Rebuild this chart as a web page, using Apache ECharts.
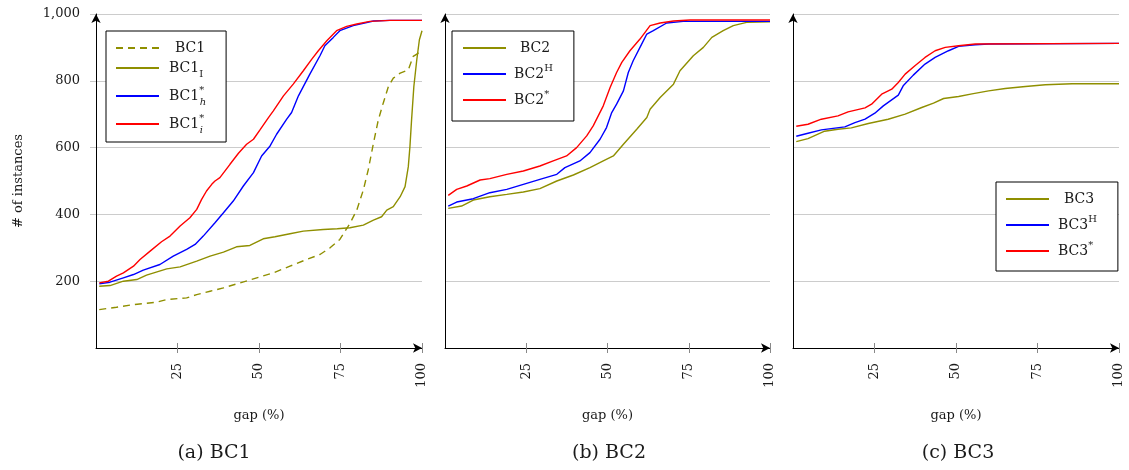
<!DOCTYPE html>
<html>
<head>
<meta charset="utf-8">
<script src="https://cdn.jsdelivr.net/npm/echarts@6/dist/echarts.min.js"></script>
<style>
  html, body { margin: 0; padding: 0; background: #fff; }
  #chart { width: 1129px; height: 470px; }
</style>
</head>
<body>
<div id="chart"></div>
<script>
// Cumulative number of instances solved within a given optimality gap (%)

// BC1 family
const bc1Gap = [1, 6.3, 11.5, 18.6, 21.7, 27.8, 30.9, 35, 39.1, 44.2, 49.3, 54.4, 59.5, 64.6, 68.7, 71.8, 74.8, 77.9, 80, 82, 83.5, 85.1, 86.6, 88.1, 89.7, 91.2, 93.3, 95.8, 97.3, 98.9, 100];
const bc1Count = [115, 122, 130, 137, 145, 150, 160, 170, 180, 195, 210, 225, 245, 265, 280, 300, 325, 373, 413, 473, 533, 613, 683, 733, 783, 808, 823, 833, 873, 883, 883];

const bc1IGap = [1, 4.3, 8.4, 12.5, 15.5, 21.7, 25.8, 30.9, 35, 39.1, 43.1, 47.2, 51.3, 54.9, 59.5, 63.6, 69.7, 74, 77.9, 82, 85.1, 87.6, 89.2, 91.2, 93.3, 94.8, 95.8, 96.3, 96.8, 97.5, 98.4, 99.2, 100];
const bc1ICount = [185, 187, 200, 205, 218, 237, 243, 260, 275, 287, 303, 307, 327, 333, 342, 350, 355, 357, 360, 368, 383, 393, 413, 423, 453, 483, 543, 603, 683, 783, 863, 923, 950];

const bc1HGap = [1, 4.3, 8.4, 11.5, 14.5, 19.6, 23.7, 27.8, 30.4, 32.9, 36.5, 39.1, 42.1, 45.2, 48.3, 50.8, 53.4, 55.4, 58.5, 60, 62.1, 65.6, 68.7, 70.2, 72.8, 74.8, 78.9, 85.1, 90, 100];
const bc1HCount = [192, 197, 210, 220, 233, 250, 275, 295, 310, 335, 375, 405, 440, 485, 525, 575, 605, 640, 685, 705, 755, 820, 875, 905, 930, 950, 965, 979, 981, 981];

const bc1IStarGap = [1, 3.8, 6.3, 8.4, 11.5, 13.5, 16.6, 20.1, 22.7, 25.8, 28.8, 30.9, 32.4, 33.9, 35.5, 36.5, 38, 41.1, 43.7, 46.2, 48.3, 50.3, 52.9, 54.4, 57.5, 60.5, 63.6, 66.2, 68.2, 70.8, 73.8, 76.9, 80, 84, 90.2, 100];
const bc1IStarCount = [195, 200, 215, 225, 245, 265, 290, 318, 335, 365, 390, 415, 445, 470, 490, 500, 510, 550, 583, 610, 625, 653, 690, 710, 755, 790, 830, 865, 890, 920, 950, 963, 970, 978, 981, 981];

// BC2 family
const bc2Gap = [1, 5.1, 8.7, 13.8, 19, 24.1, 29.2, 34.4, 39.5, 44.6, 48.7, 51.8, 54.9, 59, 62.1, 63.1, 66.2, 70.3, 72.3, 76.4, 79.5, 82.1, 85.6, 88.7, 92.8, 100];
const bc2Count = [418, 425, 443, 453, 460, 467, 477, 500, 518, 540, 560, 575, 610, 655, 690, 715, 750, 790, 830, 875, 900, 930, 950, 965, 975, 977];

const bc2HGap = [1, 3.6, 8.7, 13.8, 19, 24.1, 29.2, 34.4, 36.9, 41.5, 44.6, 47.7, 49.7, 51.3, 52.8, 54.9, 56.4, 57.9, 60, 62.1, 64.1, 68.2, 73.3, 100];
const bc2HCount = [425, 437, 447, 465, 475, 490, 505, 520, 540, 560, 585, 625, 660, 705, 730, 770, 825, 860, 900, 940, 950, 973, 978, 978];

const bc2StarGap = [1, 3.6, 6.7, 10.8, 13.8, 19, 24.1, 29.2, 33.3, 37.4, 40.5, 43.6, 45.6, 48.7, 50.8, 52.8, 54.4, 56.9, 60, 63.1, 66.2, 70.3, 75.4, 100];
const bc2StarCount = [457, 475, 485, 503, 507, 520, 530, 545, 560, 575, 600, 635, 665, 725, 780, 825, 855, 890, 925, 965, 973, 979, 982, 982];

// BC3 family
const bc3Gap = [1, 4.6, 9.7, 13.8, 17.9, 23.1, 29.2, 34.4, 39.5, 43.1, 46.2, 50.8, 54.9, 60, 65.1, 71.3, 77.4, 85.6, 100];
const bc3Count = [618, 627, 649, 655, 659, 672, 685, 700, 720, 733, 747, 753, 761, 770, 777, 783, 788, 791, 791];

const bc3HGap = [1, 4.6, 8.7, 15.9, 19, 22.1, 25.1, 27.7, 32.3, 33.8, 36.9, 40.5, 43.6, 47.7, 50.8, 55.9, 60, 100];
const bc3HCount = [634, 643, 653, 662, 675, 685, 703, 725, 757, 785, 817, 850, 870, 890, 903, 908, 910, 912];

const bc3StarGap = [1, 4.6, 8.7, 13.8, 16.9, 22.1, 24.1, 27.2, 30.3, 32.3, 34.4, 37.4, 40.5, 43.6, 46.7, 50.8, 55.9, 100];
const bc3StarCount = [664, 670, 685, 695, 707, 719, 730, 760, 775, 795, 820, 845, 870, 890, 900, 905, 910, 912];

// Axis ticks and captions
const xTicks = [25, 50, 75, 100];
const yTicks = [200, 400, 600, 800, 1000];
const captions = ['(a) BC1', '(b) BC2', '(c) BC3'];
const xName = 'gap (%)';
const yName = '# of instances';

const OLIVE = '#8f8f00';
const BLUE = '#0000ff';
const RED = '#ff0000';
const SERIF = 'DejaVu Serif';
const INK = '#1a1a1a';

const panels = [
  { left: 96, width: 326, captionX: 214 },
  { left: 445, width: 325, captionX: 609 },
  { left: 793, width: 326, captionX: 958 }
];

const grids = panels.map(p => ({ left: p.left, width: p.width, top: 14, height: 334 }));

const xAxes = [];
const yAxes = [];
panels.forEach((p, i) => {
  // main x axis: line with arrow, outward ticks, rotated labels
  xAxes.push({
    type: 'value', gridIndex: i, min: 0, max: 100, interval: 25, position: 'bottom',
    name: xName, nameLocation: 'middle', nameGap: 61,
    nameTextStyle: { fontFamily: SERIF, fontSize: 13, color: INK },
    axisLine: { show: true, symbol: ['none', 'arrow'], symbolSize: [7, 9], lineStyle: { color: '#000', width: 1 } },
    axisTick: { show: true, customValues: xTicks, length: 5, lineStyle: { color: '#888', width: 1 } },
    axisLabel: {
      show: true, customValues: xTicks, rotate: 90, margin: 15,
      fontFamily: SERIF, fontSize: 13, color: INK
    },
    splitLine: { show: false }
  });
  // companion axis drawing the inward half of each tick
  xAxes.push({
    type: 'value', gridIndex: i, min: 0, max: 100, interval: 25, position: 'bottom',
    axisLine: { show: false },
    axisTick: { show: true, inside: true, customValues: xTicks, length: 5, lineStyle: { color: '#888', width: 1 } },
    axisLabel: { show: false },
    splitLine: { show: false }
  });
  yAxes.push({
    type: 'value', gridIndex: i, min: 0, max: 1000, interval: 200,
    name: i === 0 ? yName : '', nameLocation: 'middle', nameGap: 71,
    nameTextStyle: { fontFamily: SERIF, fontSize: 13, color: INK },
    axisLine: { show: true, symbol: ['none', 'arrow'], symbolSize: [7, 9], lineStyle: { color: '#000', width: 1 } },
    axisTick: { show: i === 0, customValues: yTicks, length: 6, lineStyle: { color: '#c8c8c8', width: 1 } },
    axisLabel: {
      show: i === 0, customValues: yTicks, margin: 16,
      fontFamily: SERIF, fontSize: 13, color: INK,
      formatter: v => v.toLocaleString('en-US')
    },
    splitLine: { show: true, lineStyle: { color: '#cccccc', width: 1 } }
  });
});

function line(name, gap, count, panel, color, dashed) {
  return {
    type: 'line', name,
    xAxisIndex: panel * 2, yAxisIndex: panel,
    data: gap.map((g, k) => [g, count[k]]),
    symbol: 'none', color,
    lineStyle: { color, width: 1.4, type: dashed ? [7, 5] : 'solid' },
    animation: false
  };
}

const series = [
  line('BC1', bc1Gap, bc1Count, 0, OLIVE, true),
  line('BC1_I', bc1IGap, bc1ICount, 0, OLIVE, false),
  line('BC1_h*', bc1HGap, bc1HCount, 0, BLUE, false),
  line('BC1_i*', bc1IStarGap, bc1IStarCount, 0, RED, false),
  line('BC2', bc2Gap, bc2Count, 1, OLIVE, false),
  line('BC2^H', bc2HGap, bc2HCount, 1, BLUE, false),
  line('BC2^*', bc2StarGap, bc2StarCount, 1, RED, false),
  line('BC3', bc3Gap, bc3Count, 2, OLIVE, false),
  line('BC3^H', bc3HGap, bc3HCount, 2, BLUE, false),
  line('BC3^*', bc3StarGap, bc3StarCount, 2, RED, false)
];

// Legend entries with sub- and superscripts; plain names are nudged right to sit centred
const legendText = {
  'BC1': '{mp|BC1}',
  'BC1_I': '{m|BC1}{sub|I}',
  'BC1_h*': '{m|BC1}{supz|*}{subi|h}',
  'BC1_i*': '{m|BC1}{supz|*}{subi|i}',
  'BC2': '{mp|BC2}',
  'BC2^H': '{m|BC2}{sup|H}',
  'BC2^*': '{m|BC2}{sup|*}',
  'BC3': '{mp|BC3}',
  'BC3^H': '{m|BC3}{sup|H}',
  'BC3^*': '{m|BC3}{sup|*}'
};

const rich = {
  m: { fontFamily: SERIF, fontSize: 14, lineHeight: 22, verticalAlign: 'middle', color: INK },
  mp: { fontFamily: SERIF, fontSize: 14, lineHeight: 22, verticalAlign: 'middle', padding: [0, 0, 0, 6], color: INK },
  sub: { fontFamily: SERIF, fontSize: 10, lineHeight: 10, verticalAlign: 'bottom', color: INK },
  subi: { fontFamily: SERIF, fontStyle: 'italic', fontSize: 10, lineHeight: 10, verticalAlign: 'bottom', color: INK },
  sup: { fontFamily: SERIF, fontSize: 10, lineHeight: 10, verticalAlign: 'top', color: INK },
  supz: { fontFamily: SERIF, fontSize: 10, lineHeight: 10, verticalAlign: 'top', width: 0.5, color: INK }
};

function legend(names, left, top, padding, gap, textPad) {
  return {
    data: names, orient: 'vertical', left, top, padding, itemGap: gap,
    itemWidth: 43, itemHeight: 14,
    backgroundColor: '#fff', borderColor: '#000', borderWidth: 1, borderRadius: 0,
    selectedMode: false,
    itemStyle: { opacity: 0 },
    formatter: n => legendText[n],
    textStyle: { rich, padding: [0, 0, 0, textPad] }
  };
}

const option = {
  animation: false,
  grid: grids,
  xAxis: xAxes,
  yAxis: yAxes,
  series,
  legend: [
    legend(['BC1', 'BC1_I', 'BC1_h*', 'BC1_i*'], 106, 31, [10, 20, 7, 9], 6, 5),
    legend(['BC2', 'BC2^H', 'BC2^*'], 452, 31, [10, 21, 14, 10], 8, 3),
    legend(['BC3', 'BC3^H', 'BC3^*'], 996, 182, [10, 21, 13, 9], 8, 4)
  ],
  title: captions.map((c, i) => ({
    text: c,
    left: panels[i].captionX,
    top: 444,
    textAlign: 'center',
    padding: 0,
    textStyle: { fontFamily: SERIF, fontSize: 19, fontWeight: 'normal', color: INK }
  }))
};

const chart = echarts.init(document.getElementById('chart'), null, { renderer: 'canvas' });
chart.setOption(option);
</script>
</body>
</html>
